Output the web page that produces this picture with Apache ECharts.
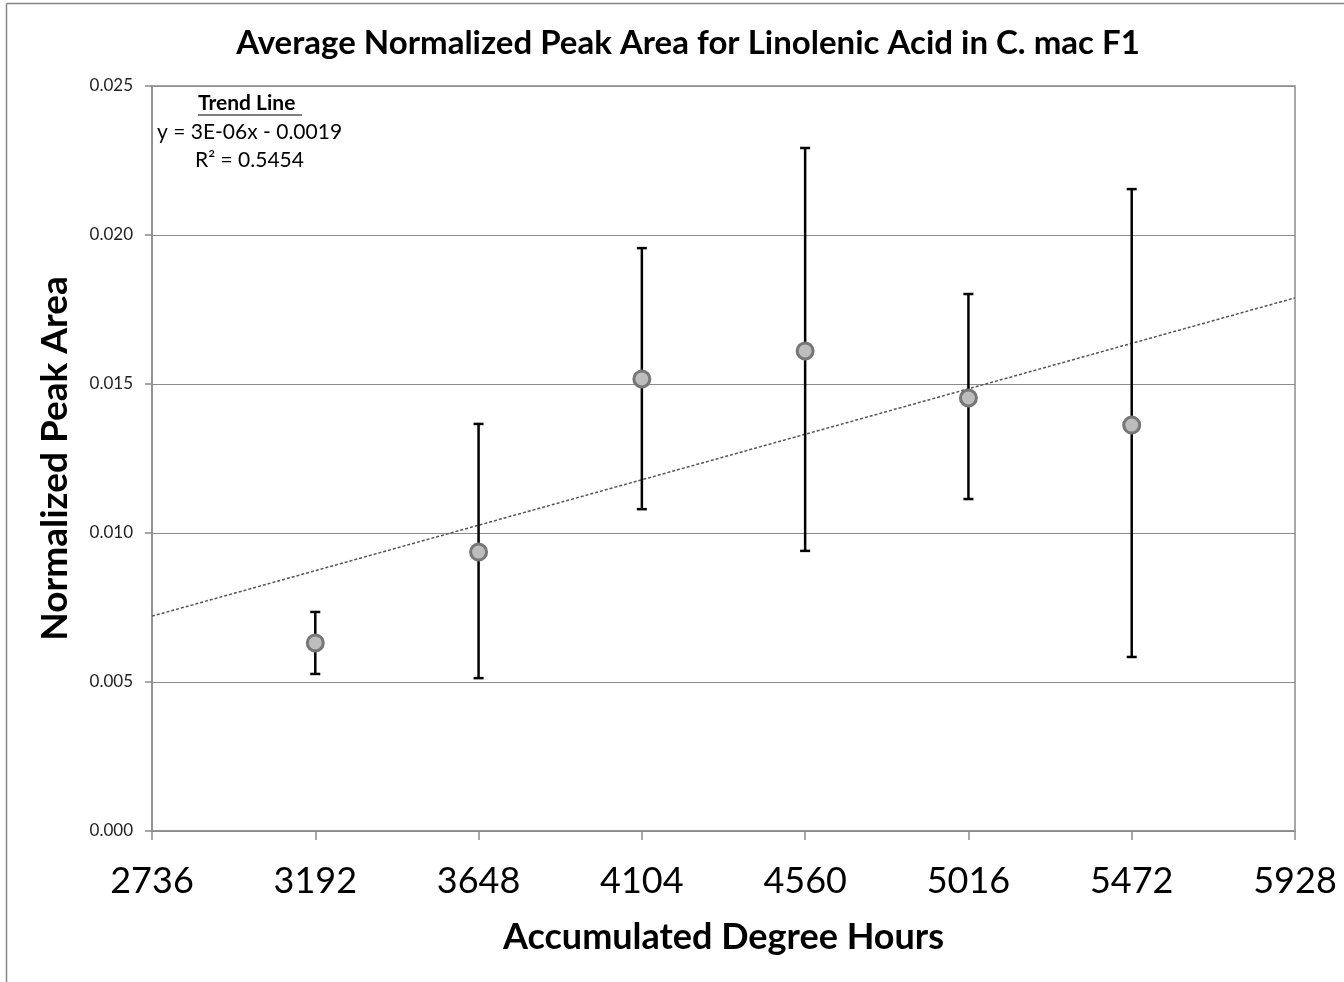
<!DOCTYPE html>
<html>
<head>
<meta charset="utf-8">
<script src="https://cdn.jsdelivr.net/npm/echarts@6/dist/echarts.min.js"></script>
<style>
html, body { margin: 0; padding: 0; background: #fff; }
#chart { width: 1344px; height: 982px; }
</style>
</head>
<body>
<div id="chart"></div>
<script>
var hours = [3192, 3648, 4104, 4560, 5016, 5472];
var meanArea = [0.00631, 0.00936, 0.01517, 0.01611, 0.01453, 0.01362];
var lowArea = [0.00527, 0.00513, 0.01080, 0.00940, 0.01114, 0.00584];
var highArea = [0.00735, 0.01366, 0.01956, 0.02292, 0.01802, 0.02154];
var trendPoints = [[2736, 0.00721], [5928, 0.01789]];

var FONT = 'Lato, "Open Sans", sans-serif';

var dom = document.getElementById('chart');
var myChart = echarts.init(dom);

var errData = [];
for (var i = 0; i < hours.length; i++) {
	errData.push([hours[i], lowArea[i], highArea[i]]);
}
var pointData = [];
for (var i = 0; i < hours.length; i++) {
	pointData.push([hours[i], meanArea[i]]);
}

var option = {
	animation: false,
	backgroundColor: '#fff',
	title: {
		text: 'Average Normalized Peak Area for Linolenic Acid in C. mac F1',
		left: 683,
		textAlign: 'center',
		top: 22,
		textStyle: { fontFamily: FONT, fontSize: 33, fontWeight: 'bold', color: '#000' }
	},
	grid: {
		left: 152, right: 49, top: 86, bottom: 151,
		show: true, borderColor: '#8c8c8c', borderWidth: 1.5
	},
	xAxis: {
		type: 'value',
		min: 2736, max: 5928, interval: 456,
		name: 'Accumulated Degree Hours',
		nameLocation: 'middle',
		nameGap: 88,
		nameTextStyle: { fontFamily: FONT, fontSize: 36, fontWeight: 'bold', color: '#000' },
		axisLine: { lineStyle: { color: '#8c8c8c', width: 1.5 } },
		axisTick: { show: true, inside: false, length: 9, lineStyle: { color: '#8c8c8c', width: 1.5 } },
		axisLabel: {
			fontFamily: FONT, fontSize: 36, color: '#000', margin: 32,
			formatter: function (v) { return String(v); }
		},
		splitLine: { show: false }
	},
	yAxis: {
		type: 'value',
		min: 0, max: 0.025, interval: 0.005,
		name: 'Normalized Peak Area',
		nameLocation: 'middle',
		nameGap: 78,
		nameTextStyle: { fontFamily: FONT, fontSize: 37, fontWeight: 'bold', color: '#000' },
		axisLine: { show: true, lineStyle: { color: '#8c8c8c', width: 1.5 } },
		axisTick: { show: true, length: 7, lineStyle: { color: '#8c8c8c', width: 1.5 } },
		axisLabel: {
			fontFamily: FONT, fontSize: 17, color: '#222', margin: 19,
			formatter: function (v) { return v.toFixed(3); }
		},
		splitLine: { lineStyle: { color: '#8c8c8c', width: 1.2 } }
	},
	series: [
		{
			type: 'line',
			data: trendPoints,
			symbol: 'none',
			lineStyle: { color: '#555', width: 1.5, type: [3, 2] },
			z: 2
		},
		{
			type: 'custom',
			data: errData,
			renderItem: function (params, api) {
				var x = api.value(0);
				var lo = api.coord([x, api.value(1)]);
				var hi = api.coord([x, api.value(2)]);
				var cap = 5;
				var st = { stroke: '#000', lineWidth: 2.5 };
				return {
					type: 'group',
					children: [
						{ type: 'line', shape: { x1: lo[0], y1: lo[1], x2: hi[0], y2: hi[1] }, style: st },
						{ type: 'line', shape: { x1: hi[0] - cap, y1: hi[1], x2: hi[0] + cap, y2: hi[1] }, style: st },
						{ type: 'line', shape: { x1: lo[0] - cap, y1: lo[1], x2: lo[0] + cap, y2: lo[1] }, style: st }
					]
				};
			},
			z: 3
		},
		{
			type: 'scatter',
			data: pointData,
			symbol: 'circle',
			symbolSize: 16,
			itemStyle: { color: '#bdbdbd', borderColor: '#777', borderWidth: 3, opacity: 1 },
			z: 4
		}
	],
	graphic: [
		{ type: 'line', shape: { x1: 6.5, y1: 3.5, x2: 1344, y2: 3.5 }, style: { stroke: '#888', lineWidth: 1.5 } },
		{ type: 'line', shape: { x1: 6.5, y1: 3.5, x2: 6.5, y2: 982 }, style: { stroke: '#888', lineWidth: 1.5 } },
		{ type: 'text', left: 198, top: 93, style: { text: 'Trend Line', fontFamily: FONT, fontSize: 21, fontWeight: 'bold', fill: '#000' } },
		{ type: 'line', shape: { x1: 198, y1: 115, x2: 302, y2: 115 }, style: { stroke: '#000', lineWidth: 1.2 } },
		{ type: 'text', left: 157, top: 122, style: { text: 'y = 3E-06x - 0.0019', fontFamily: FONT, fontSize: 21, fill: '#000' } },
		{ type: 'text', left: 195, top: 150, style: { text: 'R² = 0.5454', fontFamily: FONT, fontSize: 21, fill: '#000' } }
	]
};
myChart.setOption(option, true);
</script>
</body>
</html>
